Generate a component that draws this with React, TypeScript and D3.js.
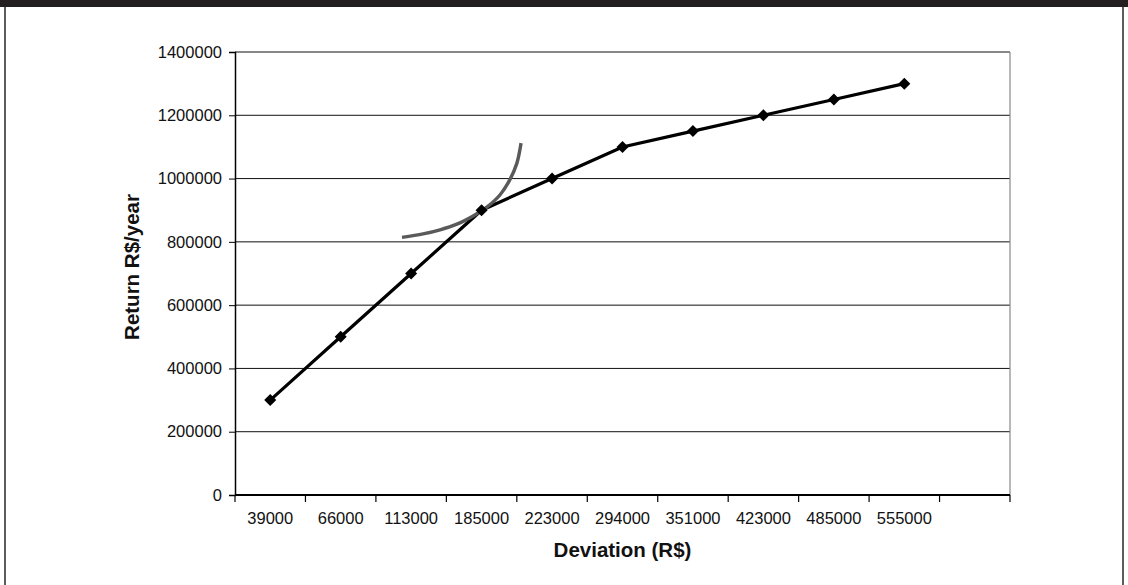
import { useEffect, useRef } from "react";
import * as d3 from "d3";

const categories = [
  "39000",
  "66000",
  "113000",
  "185000",
  "223000",
  "294000",
  "351000",
  "423000",
  "485000",
  "555000",
  "",
];
const returns = [
  300000, 500000, 700000, 900000, 1000000, 1100000, 1150000, 1200000, 1250000,
  1300000,
];
const yTicks = [0, 200000, 400000, 600000, 800000, 1000000, 1200000, 1400000];

// gray curve, as (category position, return) pairs
const curveIdx = [1.87, 2.17, 2.41, 2.65, 2.88, 3.07, 3.26, 3.4, 3.5, 3.56];
const curveVal = [
  814000, 825000, 838000, 856000, 882000, 909000, 948000, 996000, 1048000,
  1112000,
];

export default function App() {
  const svgRef = useRef<SVGSVGElement>(null);

  useEffect(() => {
    if (!svgRef.current) return;
    const svg = d3.select(svgRef.current);
    svg.selectAll("*").remove();

    const W = 1128;
    const H = 585;
    const margin = { top: 52, right: 118, bottom: 90, left: 235 };
    const width = W - margin.left - margin.right;
    const height = H - margin.top - margin.bottom;
    const font = "'Liberation Sans', Arial, sans-serif";

    // frame
    svg.append("rect").attr("x", 0).attr("y", 0).attr("width", W).attr("height", H).attr("fill", "#fff");
    svg.append("rect").attr("x", 0).attr("y", 0).attr("width", W).attr("height", 7).attr("fill", "#231f20");
    svg.append("line").attr("x1", 5).attr("x2", 5).attr("y1", 7).attr("y2", H).attr("stroke", "#333").attr("stroke-width", 1.6);
    svg.append("line").attr("x1", 1123).attr("x2", 1123).attr("y1", 7).attr("y2", H).attr("stroke", "#333").attr("stroke-width", 1.6);

    const x = d3.scaleBand().domain(categories).range([0, width]).padding(0);
    const xc = d3.scaleLinear().domain([0, categories.length]).range([0, width]);
    const y = d3.scaleLinear().domain([0, 1400000]).range([height, 0]);

    const g = svg.append("g").attr("transform", "translate(" + margin.left + "," + margin.top + ")");

    // gridlines
    g.selectAll(".grid")
      .data(yTicks.slice(1))
      .enter()
      .append("line")
      .attr("x1", 0)
      .attr("x2", width)
      .attr("y1", (d) => y(d))
      .attr("y2", (d) => y(d))
      .attr("stroke", "#111")
      .attr("stroke-width", 1);

    // plot right edge
    g.append("line").attr("x1", width).attr("x2", width).attr("y1", 0).attr("y2", height).attr("stroke", "#888").attr("stroke-width", 1.2);

    // y axis
    const yAxis = g
      .append("g")
      .call(d3.axisLeft(y).tickValues(yTicks).tickFormat(d3.format("d")).tickSize(6).tickPadding(7));
    yAxis.select(".domain").attr("stroke", "#000").attr("stroke-width", 1.5);
    yAxis.selectAll("line").attr("stroke", "#000");
    yAxis.selectAll("text").attr("font-family", font).attr("font-size", 16.5).attr("fill", "#111");

    // x axis
    const xg = g.append("g").attr("transform", "translate(0," + height + ")");
    xg.append("line").attr("x1", 0).attr("x2", width).attr("stroke", "#000").attr("stroke-width", 2);
    xg.selectAll(".tick")
      .data(d3.range(categories.length + 1))
      .enter()
      .append("line")
      .attr("x1", (i) => xc(i))
      .attr("x2", (i) => xc(i))
      .attr("y1", 0)
      .attr("y2", 7)
      .attr("stroke", "#000")
      .attr("stroke-width", 1.2);
    xg.selectAll(".lbl")
      .data(categories)
      .enter()
      .append("text")
      .attr("x", (d) => (x(d) ?? 0) + x.bandwidth() / 2)
      .attr("y", 29)
      .attr("text-anchor", "middle")
      .attr("font-family", font)
      .attr("font-size", 16.5)
      .attr("fill", "#111")
      .text((d) => d);

    // axis titles
    svg.append("text")
      .attr("x", margin.left + width / 2)
      .attr("y", 557)
      .attr("text-anchor", "middle")
      .attr("font-family", font)
      .attr("font-size", 20.5)
      .attr("font-weight", "bold")
      .attr("fill", "#111")
      .text("Deviation (R$)");
    svg.append("text")
      .attr("transform", "translate(138.5,267) rotate(-90)")
      .attr("text-anchor", "middle")
      .attr("font-family", font)
      .attr("font-size", 20.5)
      .attr("font-weight", "bold")
      .attr("fill", "#111")
      .text("Return R$/year");

    // main series
    const line = d3
      .line<number>()
      .x((_, i) => (x(categories[i]) ?? 0) + x.bandwidth() / 2)
      .y((d) => y(d));
    g.append("path")
      .datum(returns)
      .attr("d", line)
      .attr("fill", "none")
      .attr("stroke", "#000")
      .attr("stroke-width", 3.2);

    // gray curve
    const curvePts = curveIdx.map((c, i) => [c, curveVal[i]] as [number, number]);
    g.append("path")
      .datum(curvePts)
      .attr(
        "d",
        d3
          .line<[number, number]>()
          .x((d) => xc(d[0] + 0.5))
          .y((d) => y(d[1]))
          .curve(d3.curveCatmullRom)
      )
      .attr("fill", "none")
      .attr("stroke", "#5a5a5a")
      .attr("stroke-width", 3.4);

    // markers
    g.selectAll(".pt")
      .data(returns)
      .enter()
      .append("path")
      .attr("d", d3.symbol().type(d3.symbolDiamond2).size(92)())
      .attr("transform", (d, i) => "translate(" + ((x(categories[i]) ?? 0) + x.bandwidth() / 2) + "," + y(d) + ")")
      .attr("fill", "#000");
  }, []);

  return (
    <svg
      ref={svgRef}
      width={1128}
      height={585}
      style={{ position: "absolute", left: 0, top: 0, display: "block" }}
    />
  );
}
